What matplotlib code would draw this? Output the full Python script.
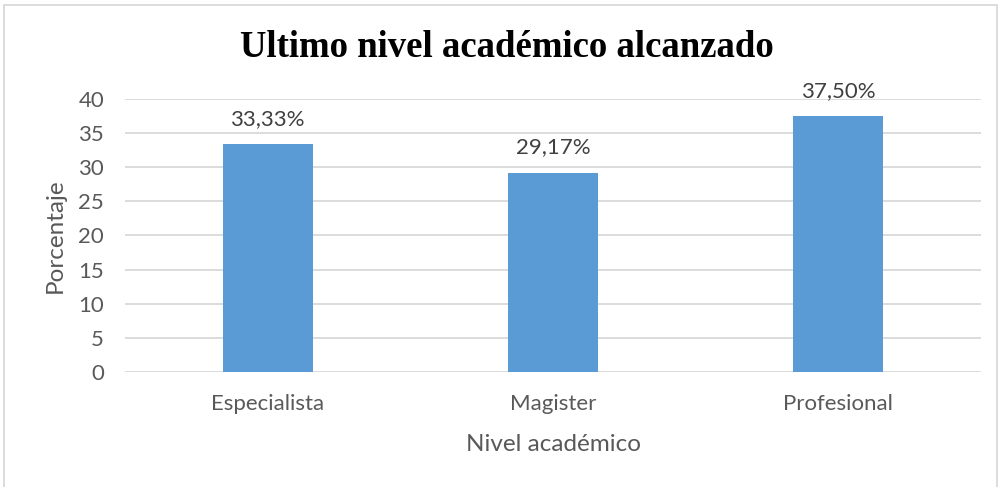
import matplotlib.pyplot as plt
from matplotlib.patches import Rectangle

categorias = ['Especialista', 'Magister', 'Profesional']
porcentajes = [33.33, 29.17, 37.50]
etiquetas = ['33,33%', '29,17%', '37,50%']
yticks = [0, 5, 10, 15, 20, 25, 30, 35, 40]

gris = '#595959'
fig = plt.figure(figsize=(10, 4.87), dpi=100)
ax = fig.add_axes([0.125, 0.236, 0.856, 0.561])

x = range(len(categorias))
bars = ax.bar(x, porcentajes, width=0.315, color='#5B9BD5', zorder=3)
for b, t in zip(bars, etiquetas):
    ax.annotate(t, (b.get_x() + b.get_width() / 2, b.get_height()),
                xytext=(0, 11), textcoords='offset points', ha='center', va='bottom',
                fontsize=16, color='#404040', family='Lato')

ax.set_xlim(-0.5, 2.5)
ax.set_ylim(0, 40)
ax.set_yticks(yticks)
ax.set_xticks(list(x))
ax.set_xticklabels(categorias)
ax.tick_params(length=0, labelsize=16, labelcolor=gris)
ax.tick_params(axis='y', pad=15)
ax.tick_params(axis='x', pad=16)
for lbl in ax.get_xticklabels() + ax.get_yticklabels():
    lbl.set_family('Lato')
ax.yaxis.grid(True, color='#D9D9D9', lw=1.3, zorder=0)
for s in ax.spines.values():
    s.set_visible(False)

ax.set_xlabel('Nivel académico', fontsize=17.5, color=gris, family='Lato', labelpad=14)
ax.set_ylabel('Porcentaje', fontsize=17.5, color=gris, family='Lato', labelpad=9)
fig.text(0.507, 0.902, 'Ultimo nivel académico alcanzado', ha='center', va='center',
         fontsize=26.5, fontweight='bold', family='Liberation Serif')

fig.patches.append(Rectangle((0.004, -0.01), 0.993, 1.0, transform=fig.transFigure,
                             fill=False, edgecolor='#D9D9D9', lw=1.3))
fig.savefig('out.png')
